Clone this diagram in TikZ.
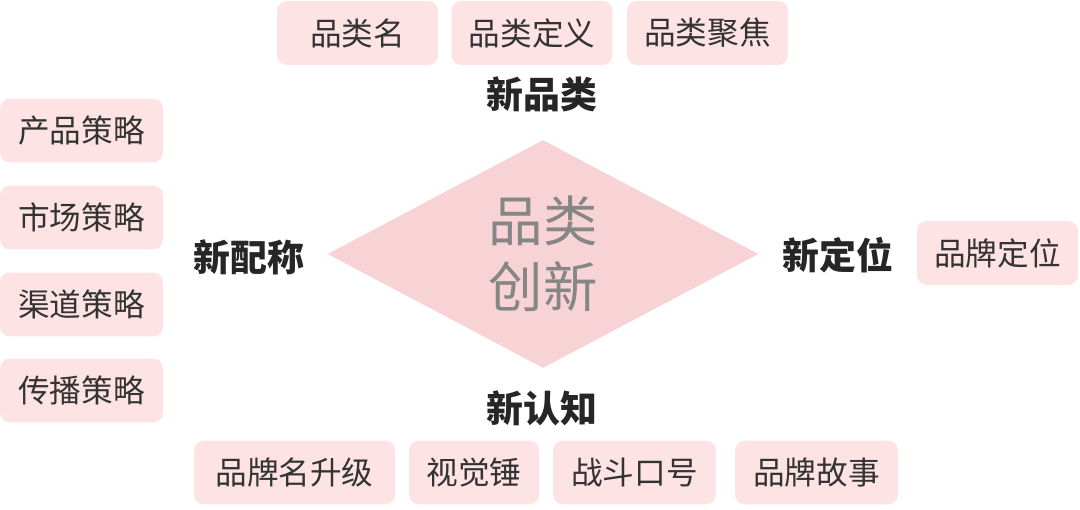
\documentclass[tikz,border=0pt]{standalone}
\usepackage{fontspec}
\setmainfont{Noto Sans CJK SC}
\usepackage{tikz}
\usetikzlibrary{shapes.geometric,positioning}
\definecolor{boxpink}{HTML}{FDE3E4}
\definecolor{diamondpink}{HTML}{F8D3D5}
\definecolor{boxtext}{HTML}{333333}
\definecolor{centergray}{HTML}{868686}

\begin{document}
\begin{tikzpicture}[x=0.02cm,y=-0.02cm,
    itembox/.style={rectangle,rounded corners=0.2cm,fill=boxpink,text=boxtext,
      minimum height=1.28cm,minimum width=3.22cm,inner sep=0pt,
      font=\fontsize{18}{21}\selectfont},
    branch/.style={text=black!85,font=\fontsize{21}{24}\selectfont\bfseries}]
    \useasboundingbox (0,0) rectangle (1080,510);
    \node[diamond,fill=diamondpink,minimum width=8.62cm,minimum height=4.56cm,inner sep=0pt,
      text=centergray,align=center,font=\fontsize{31}{37.5}\selectfont] (core) at (543,254) {品类\\创新};
    \node[branch] (newcat) at (542,94) {新品类};
    \node[branch] (newfit) at (249,257) {新配称};
    \node[branch] (newpos) at (838,255) {新定位};
    \node[branch] (newcog) at (542,408) {新认知};
    \node[itembox] (catname) at (357.5,33) {品类名};
    \node[itembox] (catdef) at (532,33) {品类定义};
    \node[itembox] (catfocus) at (707.5,33) {品类聚焦};
    \node[itembox,minimum width=3.26cm] (product) at (81.5,130.5) {产品策略};
    \node[itembox,minimum width=3.26cm] (market) at (81.5,217.5) {市场策略};
    \node[itembox,minimum width=3.26cm] (channel) at (81.5,304.5) {渠道策略};
    \node[itembox,minimum width=3.26cm] (spread) at (81.5,390.5) {传播策略};
    \node[itembox] (brandpos) at (997.5,253) {品牌定位};
    \node[itembox,minimum width=4.02cm] (brandname) at (294.5,472.5) {品牌名升级};
    \node[itembox,minimum width=2.6cm] (hammer) at (474,472.5) {视觉锤};
    \node[itembox,minimum width=3.26cm] (slogan) at (634.5,472.5) {战斗口号};
    \node[itembox,minimum width=3.26cm] (story) at (816.5,472.5) {品牌故事};
  \end{tikzpicture}
\end{document}
